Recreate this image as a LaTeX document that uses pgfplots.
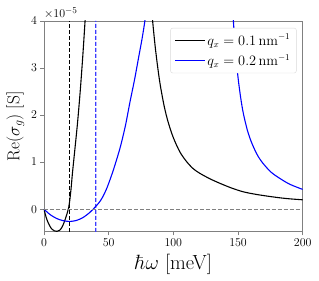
\documentclass[border=0pt]{standalone}
\usepackage{pgfplots}
\pgfplotsset{compat=1.18}
\definecolor{mblue}{RGB}{0,0,255}
\definecolor{lblue}{RGB}{60,60,255}
\definecolor{mgray}{RGB}{128,128,128}
\begin{document}
\begin{tikzpicture}
\begin{axis}[
  name=ax,
  scale only axis,
  width=259bp, height=211bp,
  xmin=0, xmax=200, ymin=-0.48, ymax=4,
  xtick={0,50,100,150,200},
  ytick={0,1,2,3,4},
  tick align=outside,
  tick pos=left,
  major tick length=3.5bp,
  axis line style={draw=mgray, line width=0.6pt},
  every tick/.style={draw=mgray, line width=0.6pt},
  tick label style={font=\fontsize{13}{15}\selectfont},
  xlabel={$\hbar\omega$ [meV]},
  ylabel={$\mathrm{Re}(\sigma_g)$ [S]},
  xlabel style={font=\fontsize{20.5}{24}\selectfont, yshift=-1bp},
  ylabel style={font=\fontsize{17.5}{21}\selectfont, yshift=0bp},
  legend style={at={(0.976,0.967)}, anchor=north east, draw=black!15, rounded corners=2pt,
    font=\fontsize{13.5}{16}\selectfont, row sep=4pt, inner xsep=4pt, inner ysep=4pt},
  legend cell align=left,
  legend image code/.code={\draw[#1] (0cm,0cm) -- (1.05cm,0cm);},
]
% blue dashed reference line (drawn as a thin band)
\addplot[lblue, line width=1.4pt, dash pattern=on 4bp off 2bp, forget plot] coordinates {(40,-0.48) (40.01,1.76) (40,4)};
% black, first branch
\addplot[color=black, line width=1.1pt, smooth] coordinates {
 (0,0) (2,-0.2) (4,-0.33) (6,-0.42) (8,-0.46) (10,-0.47) (12,-0.45) (14,-0.38) (16,-0.25)
 (18,-0.08) (19,0.02) (20,0.2) (21,0.45) (22,0.76) (24,1.3) (26,1.85) (28,2.5) (30,3.25)
 (32,4.1) (34,5.0)};
\addlegendentry{$q_x = 0.1\,\mathrm{nm}^{-1}$}
% blue, first branch
\addplot[color=mblue, line width=1.1pt, smooth] coordinates {
 (0,0) (5,-0.12) (10,-0.2) (15,-0.245) (20,-0.26) (25,-0.24) (30,-0.18) (35,-0.08) (38,0)
 (42,0.12) (45,0.24) (48.5,0.44) (52,0.7) (55,0.95) (59,1.32) (63,1.78) (66.5,2.28)
 (70,2.75) (73,3.2) (76,3.65) (78,4.0) (80,4.4)};
\addlegendentry{$q_x = 0.2\,\mathrm{nm}^{-1}$}
% black, second branch
\addplot[color=black, line width=1.1pt, smooth, forget plot] coordinates {
 (82,4.7) (84,4.0) (86,3.45) (88,3.0) (90,2.62) (93,2.18) (96,1.85) (100,1.52) (105,1.22)
 (110,1.02) (115,0.87) (120,0.77) (128,0.65) (136,0.55) (145,0.45) (154,0.37) (165,0.31)
 (180,0.25) (190,0.22) (200,0.2)};
% blue, second branch
\addplot[color=mblue, line width=1.1pt, smooth, forget plot] coordinates {
 (145,4.5) (146.4,4.0) (148,3.35) (150,2.8) (152,2.38) (154,2.05) (157,1.7) (160,1.45)
 (164,1.2) (168,1.02) (175,0.8) (182,0.66) (190,0.53) (200,0.42)};
% reference lines
\addplot[color=mgray, line width=0.9pt, dash pattern=on 4bp off 2bp, forget plot] coordinates {(0,0) (200,0)};
\addplot[color=black, line width=1.0pt, dash pattern=on 4bp off 2bp, forget plot] coordinates {(20,-0.48) (20,4)};
\end{axis}
\node[anchor=south west, inner sep=0pt, font=\fontsize{13}{15}\selectfont] at ([yshift=2bp]ax.north west) {$\times10^{-5}$};
\pgfresetboundingbox
\path[use as bounding box] ([xshift=-44bp, yshift=-48.3bp]ax.south west) rectangle ([xshift=16.3bp, yshift=21bp]ax.north east);
\end{tikzpicture}
\end{document}
